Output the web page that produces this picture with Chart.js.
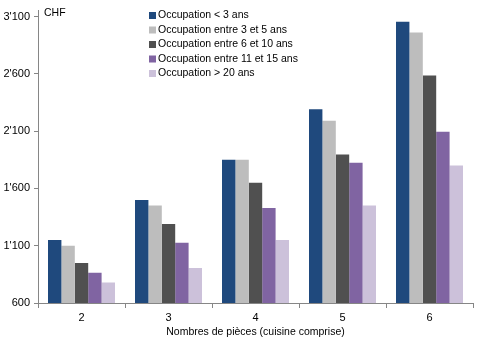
<!DOCTYPE html>
<html>
<head>
<meta charset="utf-8">
<script src="https://cdn.jsdelivr.net/npm/chart.js@4/dist/chart.umd.min.js"></script>
<style>
  html, body { margin: 0; padding: 0; background: #fff; }
  #wrap { width: 491px; height: 340px; }
</style>
</head>
<body>
<div id="wrap"><canvas id="Chart" width="491" height="340"></canvas></div>
<script>
// categories (number of rooms)
const pieces = ['2', '3', '4', '5', '6'];

// series labels and values (CHF)
const seriesNames = [
    'Occupation < 3 ans',
    'Occupation entre 3 et 5 ans',
    'Occupation entre 6 et 10 ans',
    'Occupation entre 11 et 15 ans',
    'Occupation > 20 ans'
];
const moins3 = [1150, 1500, 1850, 2290, 3055];
const de3a5 = [1100, 1450, 1850, 2190, 2960];
const de6a10 = [950, 1290, 1650, 1895, 2585];
const de11a15 = [865, 1125, 1430, 1825, 2095];
const plus20 = [780, 905, 1150, 1450, 1800];

const yTicks = [600, 1100, 1600, 2100, 2600, 3100];

const barColors = ['#1F497D', '#BDBDBD', '#505050', '#8064A2', '#CCC1DA'];
const allValues = [moins3, de3a5, de6a10, de11a15, plus20];

const FONT = '"Liberation Sans", Arial, sans-serif';

// legend + "CHF" label drawn inside the plot
const insideLegend = {
    id: 'insideLegend',
    afterDraw(chart) {
        const ctx = chart.ctx;
        const area = chart.chartArea;
        ctx.save();
        ctx.font = '10.5px ' + FONT;
        ctx.fillStyle = '#000';
        ctx.textBaseline = 'middle';
        ctx.textAlign = 'left';
        ctx.fillText('CHF', area.left + 6, 13);
        chart.data.datasets.forEach((ds, i) => {
            const y = 15 + i * 14.5;
            ctx.fillStyle = ds.backgroundColor;
            ctx.fillRect(149, y - 3, 7, 7);
            ctx.fillStyle = '#000';
            ctx.fillText(ds.label, 158, y + 0.5);
        });
        ctx.restore();
    }
};

new Chart('Chart', {
    type: 'bar',
    data: {
        labels: pieces,
        datasets: seriesNames.map((name, i) => ({
            label: name,
            data: allValues[i],
            backgroundColor: barColors[i],
            borderWidth: 0,
            categoryPercentage: 0.77,
            barPercentage: 1.0
        }))
    },
    options: {
        responsive: false,
        animation: false,
        layout: { padding: { top: 0, right: 18, left: 0, bottom: 0 } },
        plugins: {
            legend: { display: false },
            tooltip: { enabled: false }
        },
        scales: {
            x: {
                offset: true,
                grid: {
                    offset: true,
                    drawOnChartArea: false,
                    tickLength: 5,
                    color: '#868686'
                },
                border: { color: '#868686', width: 1 },
                ticks: { color: '#000', font: { family: FONT, size: 11 }, padding: 3 },
                title: {
                    display: true,
                    text: 'Nombres de pièces (cuisine comprise)',
                    color: '#000',
                    font: { family: FONT, size: 10.5 },
                    padding: { top: 0, bottom: 2 }
                },
                afterFit(scale) { scale.height = 37; }
            },
            y: {
                min: 600,
                max: 3152,
                afterBuildTicks(scale) {
                    scale.ticks = yTicks.map(v => ({ value: v }));
                },
                grid: {
                    drawOnChartArea: false,
                    tickLength: 4,
                    color: '#868686'
                },
                border: { color: '#868686', width: 1 },
                ticks: {
                    color: '#000',
                    font: { family: FONT, size: 11 },
                    padding: 4,
                    callback: v => String(v).replace(/\B(?=(\d{3})+(?!\d))/g, "'")
                },
                afterFit(scale) { scale.width = 38; }
            }
        }
    },
    plugins: [insideLegend]
});
</script>
</body>
</html>
